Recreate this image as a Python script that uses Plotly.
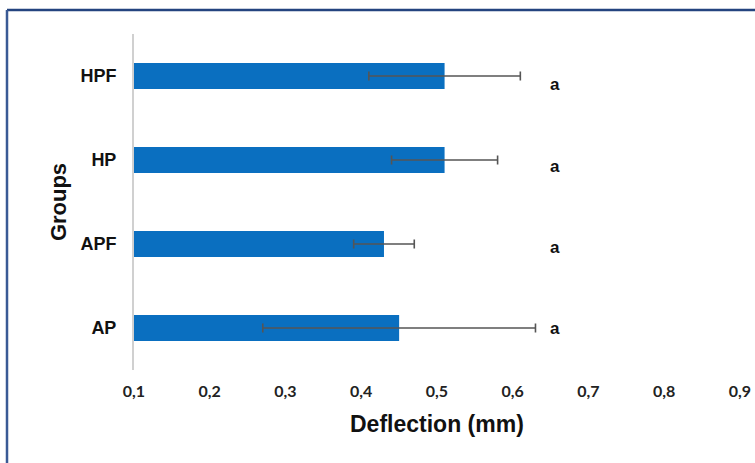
import plotly.graph_objects as go

groups = ["AP", "APF", "HP", "HPF"]
means = [0.45, 0.43, 0.51, 0.51]
sds = [0.18, 0.04, 0.07, 0.10]
letters = ["a", "a", "a", "a"]
tick_vals = [0.1, 0.2, 0.3, 0.4, 0.5, 0.6, 0.7, 0.8, 0.9]
tick_text = ["0,1", "0,2", "0,3", "0,4", "0,5", "0,6", "0,7", "0,8", "0,9"]

W, H = 755, 463
ML, MR, MT, MB = 134, 15, 34, 93
pw, ph = W - ML - MR, H - MT - MB

fig = go.Figure()
fig.add_trace(go.Bar(
    y=groups, x=means, orientation="h", base=0,
    marker=dict(color="#0a6fc0", line=dict(width=0)),
    width=0.31,
    error_x=dict(type="data", array=sds, visible=True, color="#555555",
                 thickness=1.6, width=4.5),
))

shifts = [0, -3, -6, -8]
for g, l, s in zip(groups, letters, shifts):
    fig.add_annotation(x=0.656, y=g, text=l, showarrow=False, yshift=s,
                       font=dict(family="Arial", size=17, color="#111111", weight="bold"))

# x-axis title placed as annotation below tick labels
fig.add_annotation(xref="paper", yref="paper", x=0.5, y=-(424 - (H - MB)) / ph,
                   yanchor="middle", xanchor="center", showarrow=False,
                   text="Deflection (mm)",
                   font=dict(family="Arial", size=23, color="#111111", weight="bold"))

# outer border (dark blue) at top and left
bx = (7 - ML) / pw
by = (H - MB - 10) / ph
fig.add_shape(type="line", xref="paper", yref="paper", x0=bx, x1=1.2, y0=by, y1=by,
              line=dict(color="#24447f", width=2.5))
fig.add_shape(type="line", xref="paper", yref="paper", x0=bx, x1=bx, y0=by, y1=-0.5,
              line=dict(color="#3a5a95", width=2.5))

fig.update_layout(
    width=W, height=H,
    margin=dict(l=ML, r=MR, t=MT, b=MB),
    paper_bgcolor="white", plot_bgcolor="white",
    showlegend=False,
    xaxis=dict(range=[0.1, 0.9], tickvals=tick_vals, ticktext=tick_text,
               automargin=False,
               showgrid=False, zeroline=False, showline=False,
               ticks="outside", ticklen=7, tickcolor="rgba(0,0,0,0)",
               tickfont=dict(family="Lato", size=16, color="#222222", weight="bold")),
    yaxis=dict(range=[-0.5, 3.5], showgrid=False, zeroline=False,
               automargin=False,
               showline=True, linecolor="#d0d0d0", linewidth=2,
               ticks="outside", ticklen=12, tickcolor="rgba(0,0,0,0)",
               tickfont=dict(family="Arial", size=18, color="#111111", weight="bold"),
               title=dict(text="Groups", standoff=8,
                          font=dict(family="Arial", size=22, color="#111111", weight="bold"))),
)

fig.write_html("out.html", config={"displayModeBar": False},
               post_script="document.body.style.margin='0';document.body.style.overflow='hidden';")
